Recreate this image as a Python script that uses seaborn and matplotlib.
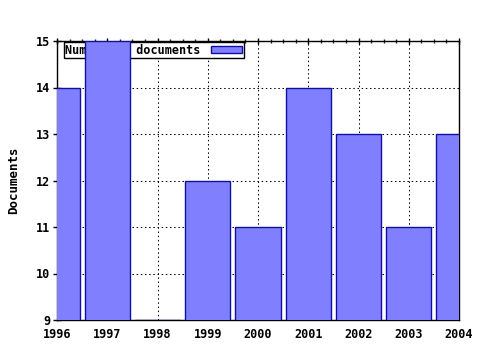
import matplotlib
matplotlib.use("Agg")
import matplotlib.pyplot as plt
from matplotlib.ticker import MultipleLocator
import seaborn as sns
import pandas as pd

years = [1996, 1997, 1998, 1999, 2000, 2001, 2002, 2003, 2004]
documents = [14, 15, 9, 12, 11, 14, 13, 11, 13]
series_label = "Number of documents"
y_label = "Documents"

sns.set_style("white")
plt.rcParams["font.family"] = ["DejaVu Sans Mono"]
plt.rcParams["font.weight"] = "bold"
plt.rcParams["text.color"] = "black"
plt.rcParams["axes.labelcolor"] = "black"

df = pd.DataFrame({"year": years, "docs": documents})

fig = plt.figure(figsize=(4.8, 3.5), dpi=100)
ax = fig.add_axes([57/480, 1-320/350, (459-57)/480, (320-41)/350])

sns.barplot(data=df, x="year", y="docs", native_scale=True, width=0.9,
            color="#8080ff", saturation=1, edgecolor="#1010a0", linewidth=1.0,
            errorbar=None, ax=ax, zorder=3, label=series_label)
for p in ax.patches:
    p.set_clip_on(True)

ax.set_xlim(1996, 2004)
ax.set_ylim(9, 15)
ax.xaxis.set_minor_locator(MultipleLocator(0.25))
ax.yaxis.set_major_locator(MultipleLocator(1))
ax.set_xticks(years)
ax.set_xticklabels([str(y) for y in years])

ax.set_axisbelow(True)
ax.grid(True, which="major", color="black", linestyle=(0, (1.4, 2.6)), linewidth=0.75)

for s in ax.spines.values():
    s.set_color("black")
    s.set_linewidth(1.0)

ax.tick_params(axis="x", which="major", direction="inout", length=5, width=1,
               top=True, labelsize=8.5, colors="black", pad=3)
ax.tick_params(axis="x", which="minor", direction="inout", length=3, width=1, top=True)
ax.tick_params(axis="y", which="major", direction="inout", length=6, width=1,
               left=True, right=False, labelsize=8.5, colors="black", pad=2)
for lab in ax.get_xticklabels() + ax.get_yticklabels():
    lab.set_fontweight("bold")

ax.set_xlabel("")
ax.set_ylabel(y_label, fontsize=9, fontweight="bold", color="black", labelpad=11)

leg = ax.legend(loc="upper left", bbox_to_anchor=(0.014, 1.0), markerfirst=False,
                frameon=True, fancybox=False, labelcolor="black",
                prop={"family": "DejaVu Sans Mono", "weight": "bold", "size": 8.5},
                borderpad=0.15, handlelength=2.6, handleheight=0.55,
                handletextpad=0.9, borderaxespad=0.08)
leg.get_frame().set_edgecolor("black")
leg.get_frame().set_linewidth(1.0)
leg.get_frame().set_facecolor("white")
leg.get_frame().set_alpha(1)
leg.set_zorder(2)

fig.savefig("out.png", dpi=100)
